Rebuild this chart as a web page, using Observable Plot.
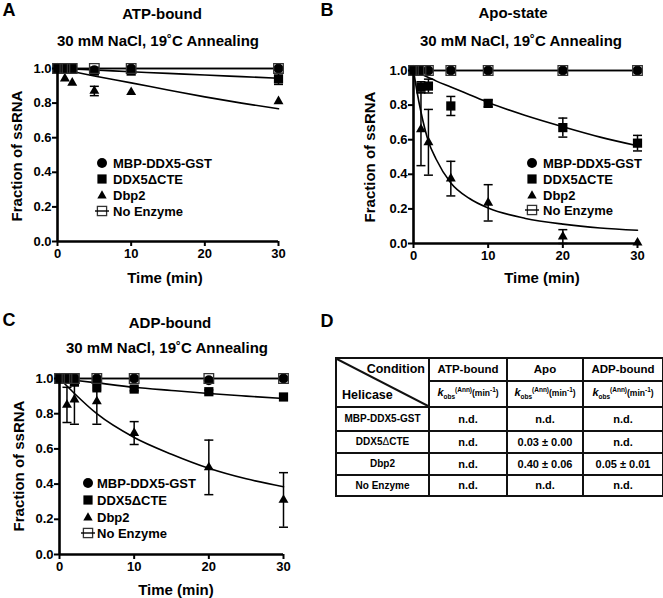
<!DOCTYPE html>
<html><head><meta charset="utf-8">
<script src="https://cdn.jsdelivr.net/npm/d3@7"></script>
<script src="https://cdn.jsdelivr.net/npm/@observablehq/plot@0.6"></script>
<style>
body{margin:0;background:#fff;}
#root{position:relative;width:663px;height:598px;overflow:hidden;font-family:"Liberation Sans",Arial,sans-serif;font-weight:bold;color:#000;background:#fff;}
.pl{position:absolute;}
.ctr{position:absolute;transform:translate(-50%,-50%);white-space:nowrap;line-height:1;}
.rot{position:absolute;transform:translate(-50%,-50%) rotate(-90deg);white-space:nowrap;line-height:1;font-size:15px;}
.lg{position:absolute;transform:translateY(-50%);white-space:nowrap;font-size:13px;line-height:1;}
.gl{position:absolute;}
table.kt{position:absolute;left:335px;top:357px;border-collapse:collapse;table-layout:fixed;width:327px;font-family:"Liberation Sans",Arial,sans-serif;font-weight:bold;}
table.kt td{border:2px solid #111;text-align:center;padding:0;font-size:11px;line-height:1;}
table.kt td.rl{font-size:10px;}
sub,sup{font-size:6.5px;}
</style></head>
<body><div id="root"></div>
<script>
// ---------- data ----------
const seriesNames = ["MBP-DDX5-GST", "DDX5\u0394CTE", "Dbp2", "No Enzyme"];
const xTicks = [0, 10, 20, 30];
const yTicks = [0, 0.2, 0.4, 0.6, 0.8, 1.0];

// ATP-bound
const timesATP = [0, 1, 2, 5, 10, 30];
const atpMBP = [1.00, 1.00, 1.00, 0.99, 1.00, 1.00];
const atpDDX5 = [1.00, 1.00, 1.00, 0.985, 0.985, 0.94];
const atpDDX5Err = [0, 0, 0, 0.01, 0.01, 0.032];
const atpDbp2 = [1.00, 0.942, 0.917, 0.87, 0.863, 0.81];
const atpDbp2Err = [0, 0, 0, 0.027, 0, 0];
const atpNone = [1, 1, 1, 1, 1, 1];
const atpFitT = [0, 5, 10, 15, 20, 25, 30];
const atpFitMBP = [1, 1, 1, 1, 1, 1, 1];
const atpFitDDX5 = [1.00, 0.991, 0.981, 0.972, 0.962, 0.953, 0.944];
const atpFitDbp2 = [1.00, 0.957, 0.917, 0.876, 0.836, 0.80, 0.767];
const atpFitNone = [1, 1, 1, 1, 1, 1, 1];

// Apo-state
const timesApo = [0, 1, 2, 5, 10, 20, 30];
const apoMBP = [1, 1, 1, 1, 1, 1, 1];
const apoDDX5 = [1.00, 0.905, 0.91, 0.795, 0.81, 0.67, 0.58];
const apoDDX5Err = [0, 0.03, 0.04, 0.055, 0.02, 0.055, 0.045];
const apoDbp2 = [1.00, 0.66, 0.585, 0.375, 0.235, 0.04, 0.005];
const apoDbp2Err = [0, 0.21, 0.19, 0.10, 0.105, 0.04, 0];
const apoNone = [1, 1, 1, 1, 1, 1, 1];
const apoFitT = [0, 0.5, 1, 2, 3, 5, 7.5, 10, 15, 20, 25, 30];
const apoFitMBP = [1, 1, 1, 1, 1, 1, 1, 1, 1, 1, 1, 1];
const apoFitDDX5 = [1.0, 0.99, 0.98, 0.96, 0.94, 0.905, 0.86, 0.815, 0.74, 0.675, 0.615, 0.565];
const apoFitDbp2 = [1.0, 0.87, 0.76, 0.59, 0.49, 0.35, 0.26, 0.205, 0.145, 0.112, 0.09, 0.077];
const apoFitNone = [1, 1, 1, 1, 1, 1, 1, 1, 1, 1, 1, 1];

// ADP-bound
const timesADP = [0, 1, 2, 5, 10, 20, 30];
const adpMBP = [1, 1, 1, 1, 1, 0.99, 1];
const adpDDX5 = [1.00, 1.00, 0.98, 0.955, 0.94, 0.925, 0.895];
const adpDDX5Err = [0, 0, 0.02, 0.03, 0.01, 0.01, 0.01];
const adpDbp2 = [1.00, 0.85, 0.88, 0.87, 0.69, 0.495, 0.31];
const adpDbp2Err = [0, 0.10, 0.14, 0.13, 0.065, 0.155, 0.155];
const adpNone = [1, 1, 1, 1, 1, 1, 1];
const adpFitT = [0, 2, 5, 10, 15, 20, 25, 30];
const adpFitMBP = [1, 1, 1, 1, 1, 1, 1, 1];
const adpFitDDX5 = [1.0, 0.99, 0.975, 0.95, 0.932, 0.915, 0.90, 0.886];
const adpFitDbp2 = [1.0, 0.915, 0.80, 0.665, 0.57, 0.49, 0.43, 0.385];
const adpFitNone = [1, 1, 1, 1, 1, 1, 1, 1];

// Table D
const tblConditions = ["ATP-bound", "Apo", "ADP-bound"];
const tblHelicases = ["MBP-DDX5-GST", "DDX5\u0394CTE", "Dbp2", "No Enzyme"];
const tblATP = ["n.d.", "n.d.", "n.d.", "n.d."];
const tblApo = ["n.d.", "0.03 \u00b1 0.00", "0.40 \u00b1 0.06", "n.d."];
const tblADP = ["n.d.", "n.d.", "0.05 \u00b1 0.01", "n.d."];

// ---------- drawing ----------
const root = document.getElementById("root");
const capSym = {draw(ctx, size) { const h = Math.sqrt(size / Math.PI); ctx.moveTo(-h, 0); ctx.lineTo(h, 0); }};

const styles = {
  "MBP-DDX5-GST": {symbol: "circle", r: 5, fill: "#000", stroke: "none"},
  "DDX5\u0394CTE": {symbol: "square", r: 5.2, fill: "#000", stroke: "none"},
  "Dbp2": {symbol: "triangle", r: 3.7, fill: "#000", stroke: "none"},
  "No Enzyme": {symbol: "square", r: 5.4, fill: "none", stroke: "#333", strokeWidth: 1.3}
};

function makePanel(cfg) {
  const rows = [];
  cfg.series.forEach((vals, k) => vals.forEach((v, i) => rows.push({s: seriesNames[k], t: cfg.times[i], y: v, e: cfg.errs[k] ? cfg.errs[k][i] : 0})));
  const fitRows = [];
  cfg.fits.forEach((ys, k) => ys.forEach((y, i) => fitRows.push({s: seriesNames[k], t: cfg.fitT[i], y})));
  const err = rows.filter(d => d.e > 0);
  const dotMarks = seriesNames.map(n => Plot.dot(rows.filter(d => d.s === n), {x: "t", y: "y", ...styles[n]}));
  const svg = Plot.plot({
    width: cfg.w, height: cfg.h,
    marginLeft: cfg.ml, marginRight: cfg.mr, marginTop: cfg.mt, marginBottom: cfg.mb,
    style: {fontFamily: "'Liberation Sans', Arial, sans-serif", fontSize: "13px", fontWeight: "bold", background: "transparent", overflow: "visible"},
    x: {domain: [0, 30], label: null},
    y: {domain: [0, 1], label: null},
    marks: [
      Plot.line(fitRows, {x: "t", y: "y", z: "s", curve: "monotone-x", stroke: "#000", strokeWidth: 1.6}),
      Plot.ruleX(err, {x: "t", y1: d => d.y - d.e, y2: d => d.y + d.e, stroke: "#000", strokeWidth: 1.5}),
      Plot.dot(err, {x: "t", y: d => d.y - d.e, symbol: capSym, r: 4.5, fill: "none", stroke: "#000", strokeWidth: 1.5}),
      Plot.dot(err, {x: "t", y: d => d.y + d.e, symbol: capSym, r: 4.5, fill: "none", stroke: "#000", strokeWidth: 1.5}),
      ...dotMarks,
      Plot.ruleY([0], {stroke: "#000", strokeWidth: 2.6}),
      Plot.ruleX([0], {stroke: "#000", strokeWidth: 2.6}),
      Plot.axisX({ticks: xTicks, tickSize: 5, tickPadding: 2, strokeWidth: 2, tickFormat: d => String(d), label: null}),
      Plot.axisY({ticks: yTicks, tickSize: 5, tickPadding: 1, strokeWidth: 2, tickFormat: d3.format(".1f"), label: null})
    ]
  });
  svg.classList.add("pl");
  svg.style.left = cfg.left + "px";
  svg.style.top = cfg.top + "px";
  root.appendChild(svg);
}

function text(str, x, y, size, cls = "ctr") {
  const d = document.createElement("div");
  d.className = cls; d.textContent = str;
  d.style.left = x + "px"; d.style.top = y + "px";
  if (size) d.style.fontSize = size + "px";
  root.appendChild(d);
  return d;
}

function glyph(kind, cx, cy) {
  const ns = "http://www.w3.org/2000/svg";
  const s = document.createElementNS(ns, "svg");
  s.setAttribute("width", 16); s.setAttribute("height", 16);
  s.setAttribute("class", "gl");
  s.style.left = (cx - 8) + "px"; s.style.top = (cy - 8) + "px";
  let html = "";
  if (kind === 0) html = '<circle cx="8" cy="8" r="5" fill="#000"/>';
  if (kind === 1) html = '<rect x="3.4" y="3.4" width="9.2" height="9.2" fill="#000"/>';
  if (kind === 2) html = '<path d="M8,3.3 L12.7,11.5 L3.3,11.5 Z" fill="#000"/>';
  if (kind === 3) html = '<rect x="3.4" y="3.4" width="9.2" height="9.2" fill="#fff" stroke="#333" stroke-width="1.3"/><line x1="1" x2="15" y1="8" y2="8" stroke="#000" stroke-width="1.4"/>';
  s.innerHTML = html;
  root.appendChild(s);
}

function legend(gx, tx, ys) {
  seriesNames.forEach((n, i) => {
    glyph(i, gx, ys[i]);
    const d = text(n, tx, ys[i], 13, "lg");
  });
}

// Panel A
makePanel({left: 0, top: 50, w: 300, h: 240, ml: 57, mr: 22, mt: 18, mb: 49,
  times: timesATP, series: [atpMBP, atpDDX5, atpDbp2, atpNone], errs: [null, atpDDX5Err, atpDbp2Err, null],
  fitT: atpFitT, fits: [atpFitMBP, atpFitDDX5, atpFitDbp2, atpFitNone]});
// Panel B
makePanel({left: 330, top: 50, w: 333, h: 240, ml: 83, mr: 26, mt: 20, mb: 47,
  times: timesApo, series: [apoMBP, apoDDX5, apoDbp2, apoNone], errs: [null, apoDDX5Err, apoDbp2Err, null],
  fitT: apoFitT, fits: [apoFitMBP, apoFitDDX5, apoFitDbp2, apoFitNone]});
// Panel C
makePanel({left: 0, top: 358, w: 310, h: 240, ml: 59, mr: 27, mt: 20, mb: 44,
  times: timesADP, series: [adpMBP, adpDDX5, adpDbp2, adpNone], errs: [null, adpDDX5Err, adpDbp2Err, null],
  fitT: adpFitT, fits: [adpFitMBP, adpFitDDX5, adpFitDbp2, adpFitNone]});

// titles, letters, axis labels
text("A", 9, 10, 18); text("B", 327, 10, 18); text("C", 9, 320, 18); text("D", 327, 321, 18);
text("ATP-bound", 162, 13, 15); text("30 mM NaCl, 19\u02daC Annealing", 158, 40, 15);
text("Apo-state", 513, 12, 15); text("30 mM NaCl, 19\u02daC Annealing", 521, 40, 15);
text("ADP-bound", 170, 322, 15); text("30 mM NaCl, 19\u02daC Annealing", 167, 347, 15);
text("Time (min)", 165, 277, 15); text("Time (min)", 542, 277, 15); text("Time (min)", 176, 589, 15);
text("Fraction of ssRNA", 15.5, 156, 15, "rot"); text("Fraction of ssRNA", 369, 157, 15, "rot"); text("Fraction of ssRNA", 17.5, 466, 15, "rot");

legend(102, 113, [162.5, 179, 195, 211]);
legend(532, 543, [163, 179, 195, 210]);
legend(88, 97, [483, 500, 517, 533]);

// Table D
const kobs = '<i style="font-size:11px">k</i><sub>obs</sub><sup>(Ann)</sup>(min<sup>-1</sup>)';
let th = '<table class="kt"><colgroup><col style="width:93px"><col style="width:78px"><col style="width:76px"><col style="width:80px"></colgroup>';
th += '<tr style="height:22px"><td rowspan="2" style="position:relative;height:47px">' +
  '<svg style="position:absolute;left:0;top:0;width:100%;height:100%" preserveAspectRatio="none" viewBox="0 0 100 100"><line x1="0" y1="0" x2="100" y2="100" stroke="#111" stroke-width="2" vector-effect="non-scaling-stroke"/></svg>' +
  '<div style="position:absolute;right:3px;top:4px;font-size:12.5px">Condition</div>' +
  '<div style="position:absolute;left:5px;bottom:5px;font-size:12.5px">Helicase</div></td>' +
  tblConditions.map(c => `<td style="font-size:11.5px">${c}</td>`).join("") + '</tr>';
th += '<tr style="height:25px">' + tblConditions.map(() => `<td style="font-size:8.5px">${kobs}</td>`).join("") + '</tr>';
const rh = [24, 22, 22, 21];
tblHelicases.forEach((h, i) => {
  const hl = h.replace("\u0394", '<span style="font-weight:normal">\u0394</span>');
  th += `<tr style="height:${rh[i]}px"><td class="rl">${hl}</td><td>${tblATP[i]}</td><td>${tblApo[i]}</td><td>${tblADP[i]}</td></tr>`;
});
th += '</table>';
root.insertAdjacentHTML("beforeend", th);
</script>
</body></html>
